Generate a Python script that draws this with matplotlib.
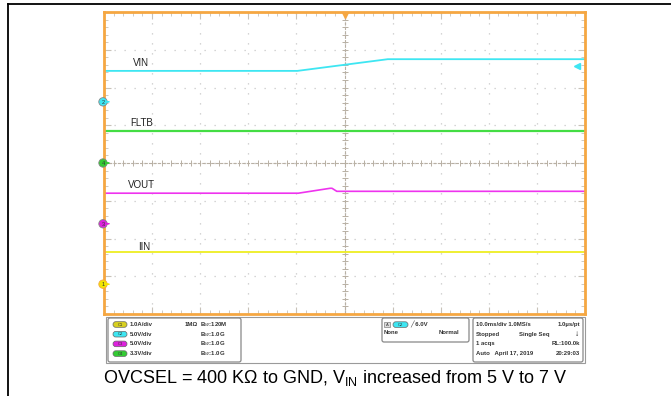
import numpy as np
import matplotlib.pyplot as plt
from matplotlib.patches import FancyBboxPatch, Rectangle, Circle

plt.rcParams['font.family'] = ['Liberation Sans', 'DejaVu Sans']

W, H = 671, 396

# time base: 10 ms/div, 10 divisions
T_MIN, T_MAX = -50, 50

# traces, vertical position in divisions (centre = 0)
vin_t = [-50, -9.8, 9.0, 50]
vin_v = [2.44, 2.44, 2.75, 2.75]

fltb_t = [-50, 50]
fltb_v = [0.86, 0.86]

vout_t = [-50, -9.6, -3.0, -2.6, -1.6, 50]
vout_v = [-0.80, -0.80, -0.67, -0.67, -0.75, -0.75]

iin_t = [-50, 50]
iin_v = [-2.37, -2.37]

labels = ['VIN', 'FLTB', 'VOUT', 'IIN']
label_pos = [(133, 63), (130, 123), (128, 185), (138, 247)]

# ground markers on the left edge (channel, level in div)
gnd_ch = ['2', '4', '3', '1']
gnd_lvl = [1.62, 0.0, -1.61, -3.21]

col_vin = '#3ee6f2'
col_fltb = '#44dd44'
col_vout = '#ee33ee'
col_iin = '#eeee22'
gnd_col = [col_vin, '#33cc33', '#dd22dd', '#f2e600']
orange = '#f5a742'

fig = plt.figure(figsize=(W / 100, H / 100), dpi=100)

# scope screen
x0, y0, x1, y1 = 104, 12, 585, 314
ax = fig.add_axes([x0 / W, 1 - y1 / H, (x1 - x0) / W, (y1 - y0) / H])
ax.set_xlim(T_MIN, T_MAX)
ax.set_ylim(-4, 4)
ax.set_xticks(np.arange(-50, 51, 10))
ax.set_yticks(np.arange(-4, 5, 1))
ax.set_xticks(np.arange(-50, 51, 2), minor=True)
ax.set_yticks(np.arange(-4, 4.1, 0.2), minor=True)
ax.tick_params(which='both', direction='in', top=True, right=True,
               labelbottom=False, labelleft=False, color='#c8c2b8')
ax.tick_params(which='major', length=5, width=0.8)
ax.tick_params(which='minor', length=3, width=0.6)
ax.grid(True, which='major', color='#c8c8c8', linestyle=(0, (1, 7)), linewidth=0.9)
for s in ax.spines.values():
    s.set_color(orange)
    s.set_linewidth(2)

# centre crosshair with small ticks
ax.axhline(0, color='#b8b0a4', lw=0.8, ls=(0, (3, 1)))
ax.axvline(0, color='#b8b0a4', lw=0.8, ls=(0, (3, 1)))
mt = np.arange(-50, 51, 2)
ax.plot(mt, np.zeros_like(mt), ls='none', marker='|', ms=4, mew=0.7, color='#b8b0a4')
mv = np.arange(-4, 4.1, 0.2)
ax.plot(np.zeros_like(mv), mv, ls='none', marker='_', ms=4, mew=0.7, color='#b8b0a4')

ax.plot(vin_t, vin_v, color=col_vin, lw=1.3)
ax.plot(fltb_t, fltb_v, color=col_fltb, lw=1.6)
ax.plot(vout_t, vout_v, color=col_vout, lw=1.2)
ax.plot(iin_t, iin_v, color=col_iin, lw=1.3)

# trigger marker at top
ax.plot([0], [3.93], marker='v', ms=5, color=orange, clip_on=False)
# reference marker on right edge
ax.plot([48.3], [2.56], marker='<', ms=4, color=col_vin, clip_on=False)

# overlay in pixel coordinates
ov = fig.add_axes([0, 0, 1, 1], facecolor='none')
ov.set_xlim(0, W)
ov.set_ylim(H, 0)
ov.axis('off')

# outer table-cell frame (top and left only)
ov.plot([8, W], [4, 4], color='black', lw=1.3)
ov.plot([8, 8], [4, H], color='black', lw=1.3)

for (lx, ly), txt in zip(label_pos, labels):
    ov.text(lx, ly, txt, fontsize=7, color='#222222', va='center', ha='left')

for ch, lvl, c in zip(gnd_ch, gnd_lvl, gnd_col):
    py = y0 + (4 - lvl) * (y1 - y0) / 8
    ov.add_patch(Circle((103, py), 4.2, facecolor=c, edgecolor='#888888' if ch != '1' else orange, lw=0.6, zorder=5))
    ov.text(103, py + 0.3, ch, fontsize=4, ha='center', va='center', color='#333333', zorder=6)
    ov.annotate('', xy=(112, py), xytext=(106, py),
                arrowprops=dict(arrowstyle='-|>', color=c, lw=0.8, mutation_scale=5), zorder=5)

# info panel
ov.add_patch(Rectangle((106, 317), 479, 46, facecolor='white', edgecolor='#9a9a9a', lw=0.8))
ov.add_patch(FancyBboxPatch((108, 318), 133, 44, boxstyle='round,pad=0,rounding_size=2',
                            facecolor='white', edgecolor='#888888', lw=0.9))
ov.add_patch(FancyBboxPatch((382, 318), 87, 24, boxstyle='round,pad=0,rounding_size=2',
                            facecolor='white', edgecolor='#888888', lw=0.9))
ov.add_patch(FancyBboxPatch((473, 318), 110, 44, boxstyle='round,pad=0,rounding_size=2',
                            facecolor='white', edgecolor='#888888', lw=0.9))

fs = 4.3
ch_names = ['C1', 'C2', 'C3', 'C4']
ch_scale = ['1.0A/div', '5.0V/div', '5.0V/div', '3.3V/div']
ch_bw = ['B$_W$:120M', 'B$_W$:1.0G', 'B$_W$:1.0G', 'B$_W$:1.0G']
pill_col = ['#d8d020', col_vin, '#dd22dd', '#33cc33']
for i in range(4):
    py = 324.5 + i * 9.7
    ov.add_patch(FancyBboxPatch((113, py - 2.8), 14, 5.6, boxstyle='round,pad=0,rounding_size=2.8',
                                facecolor=pill_col[i], edgecolor='#666666', lw=0.5))
    ov.text(120, py, ch_names[i], fontsize=3, ha='center', va='center', color='#333333')
    ov.text(130, py, ch_scale[i], fontsize=fs, ha='left', va='center', weight='bold', color='#333333')
    ov.text(200, py, ch_bw[i], fontsize=fs, ha='left', va='center', weight='bold', color='#333333')
ov.text(185, 324.5, '1MΩ', fontsize=fs, ha='left', va='center', weight='bold', color='#333333')

# trigger box
ov.add_patch(Rectangle((384, 322), 6, 5, facecolor='#dddddd', edgecolor='#666666', lw=0.4))
ov.text(387, 324.6, 'A', fontsize=3, ha='center', va='center', color='#333333')
ov.add_patch(FancyBboxPatch((393, 321.8), 15, 5.6, boxstyle='round,pad=0,rounding_size=2.8',
                            facecolor=col_vin, edgecolor='#666666', lw=0.5))
ov.text(400.5, 324.6, 'C2', fontsize=3, ha='center', va='center', color='#333333')
ov.text(410, 324.6, '╱ 6.0V', fontsize=fs, ha='left', va='center', weight='bold', color='#333333')
ov.text(384, 333, 'None', fontsize=fs, ha='left', va='center', weight='bold', color='#333333')
ov.text(459, 333, 'Normal', fontsize=fs, ha='right', va='center', weight='bold', color='#333333')

# acquisition box
rows = [('10.0ms/div 1.0MS/s', '1.0µs/pt'), ('Stopped', ''), ('1 acqs', 'RL:100.0k'),
        ('Auto   April 17, 2019', '20:29:03')]
for i, (lt, rt) in enumerate(rows):
    py = 324.5 + i * 9.7
    ov.text(476, py, lt, fontsize=fs, ha='left', va='center', weight='bold', color='#333333')
    ov.text(580, py, rt, fontsize=fs, ha='right', va='center', weight='bold', color='#333333')
ov.text(519, 334.2, 'Single Seq', fontsize=fs, ha='left', va='center', weight='bold', color='#333333')
ov.text(577, 334.2, '↓', fontsize=6, ha='center', va='center', weight='bold', color='#111111')

ov.text(335, 378, 'OVCSEL = 400 KΩ to GND, V$_{\\mathregular{IN}}$ increased from 5 V to 7 V',
        fontsize=13, ha='center', va='center', color='black')

fig.savefig('out.png', dpi=100)
